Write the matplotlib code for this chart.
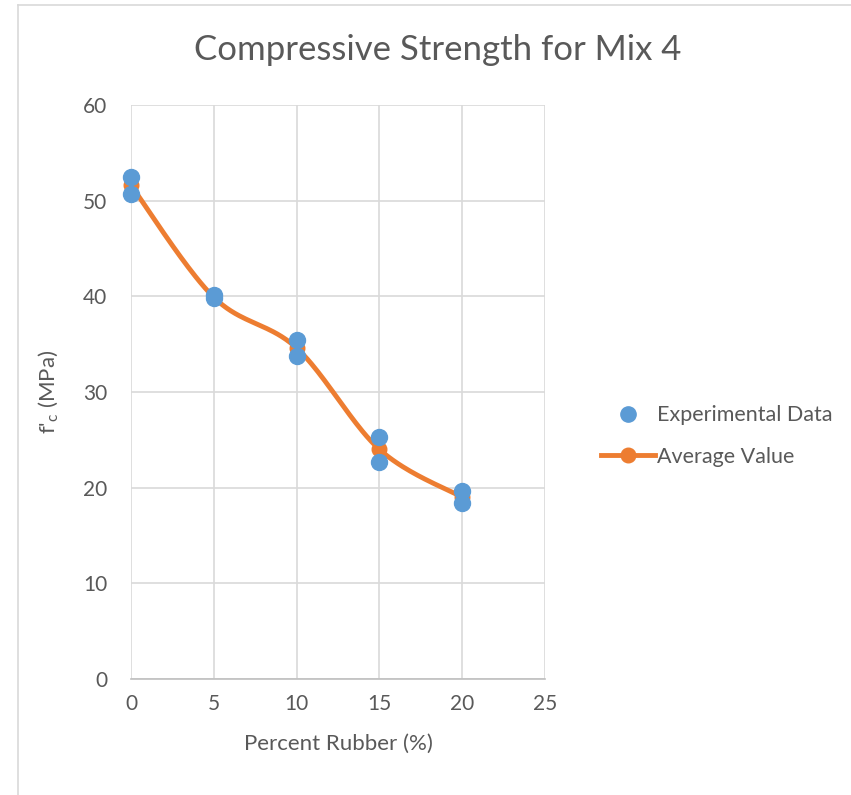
import numpy as np
import matplotlib.pyplot as plt
from matplotlib.lines import Line2D

plt.rcParams['font.family'] = ['Lato', 'DejaVu Sans']

# experimental data (two specimens per rubber content)
exp_x = [0, 0, 5, 5, 10, 10, 15, 15, 20, 20]
exp_y = [52.5, 50.7, 40.1, 39.8, 35.4, 33.8, 25.3, 22.7, 19.6, 18.4]

# average values
avg_x = [0, 5, 10, 15, 20]
avg_y = [51.6, 39.9, 34.6, 24.0, 19.0]

xticks = [0, 5, 10, 15, 20, 25]
yticks = [0, 10, 20, 30, 40, 50, 60]

blue = '#5B9BD5'
orange = '#ED7D31'
txt = '#595959'
grid = '#D9D9D9'


def smooth(xs, ys, n=40):
    # Excel-style smoothed line: Catmull-Rom via cubic Bezier segments
    p = np.column_stack([xs, ys]).astype(float)
    p = np.vstack([p[0], p, p[-1]])
    out = []
    t = np.linspace(0, 1, n)[:, None]
    for i in range(1, len(p) - 2):
        p0, p1, p2, p3 = p[i - 1], p[i], p[i + 1], p[i + 2]
        c1 = p1 + (p2 - p0) / 6
        c2 = p2 - (p3 - p1) / 6
        seg = ((1 - t) ** 3) * p1 + 3 * ((1 - t) ** 2) * t * c1 \
            + 3 * (1 - t) * t ** 2 * c2 + t ** 3 * p2
        out.append(seg)
    out = np.vstack(out)
    return out[:, 0], out[:, 1]


fig = plt.figure(figsize=(8.51, 7.95), dpi=100)
W, H = 851, 795
ax = fig.add_axes([131 / W, 1 - 679 / H, (545 - 131) / W, (679 - 105) / H])

sx, sy = smooth(avg_x, avg_y)
ax.plot(sx, sy, color=orange, lw=3.5, solid_capstyle='round', zorder=3, clip_on=False)
ax.plot(avg_x, avg_y, 'o', color=orange, ms=10.5, zorder=4, clip_on=False)
ax.plot(exp_x, exp_y, 'o', color=blue, ms=11.5, zorder=5, clip_on=False)

ax.set_xlim(0, 25)
ax.set_ylim(0, 60)
ax.set_xticks(xticks)
ax.set_yticks(yticks)
ax.grid(True, color=grid, lw=1.2)
ax.set_axisbelow(True)
for s in ['top', 'right', 'left']:
    ax.spines[s].set_visible(False)
ax.spines['bottom'].set_color('#BFBFBF')
ax.spines['bottom'].set_linewidth(1.2)
ax.tick_params(length=0, labelsize=15, colors=txt)
ax.tick_params(axis='y', pad=17)
ax.tick_params(axis='x', pad=11)

ax.set_xlabel('Percent Rubber (%)', fontsize=16, color=txt, labelpad=14)
ax.set_ylabel(r"f'$_\mathregular{c}$ (MPa)", fontsize=16, color=txt, labelpad=16)
fig.text(438 / W, 1 - 50 / H, 'Compressive Strength for Mix 4', fontsize=25,
         color=txt, ha='center', va='center')

handles = [
    Line2D([], [], ls='none', marker='o', color=blue, ms=11),
    Line2D([], [], color=orange, lw=3.5, marker='o', ms=10.5),
]
fig.legend(handles, ['Experimental Data', 'Average Value'],
           loc='center left', bbox_to_anchor=(582 / W, 1 - 436 / H),
           frameon=False, fontsize=15.5, labelcolor=txt,
           handlelength=2.5, handletextpad=0.1, labelspacing=1.0)

# chart frame
fig.add_artist(Line2D([18 / W, 18 / W], [0, 1 - 5 / H], color='#D9D9D9', lw=1.2))
fig.add_artist(Line2D([18 / W, 1], [1 - 5 / H, 1 - 5 / H], color='#D9D9D9', lw=1.2))

fig.savefig('out.png', dpi=100)
